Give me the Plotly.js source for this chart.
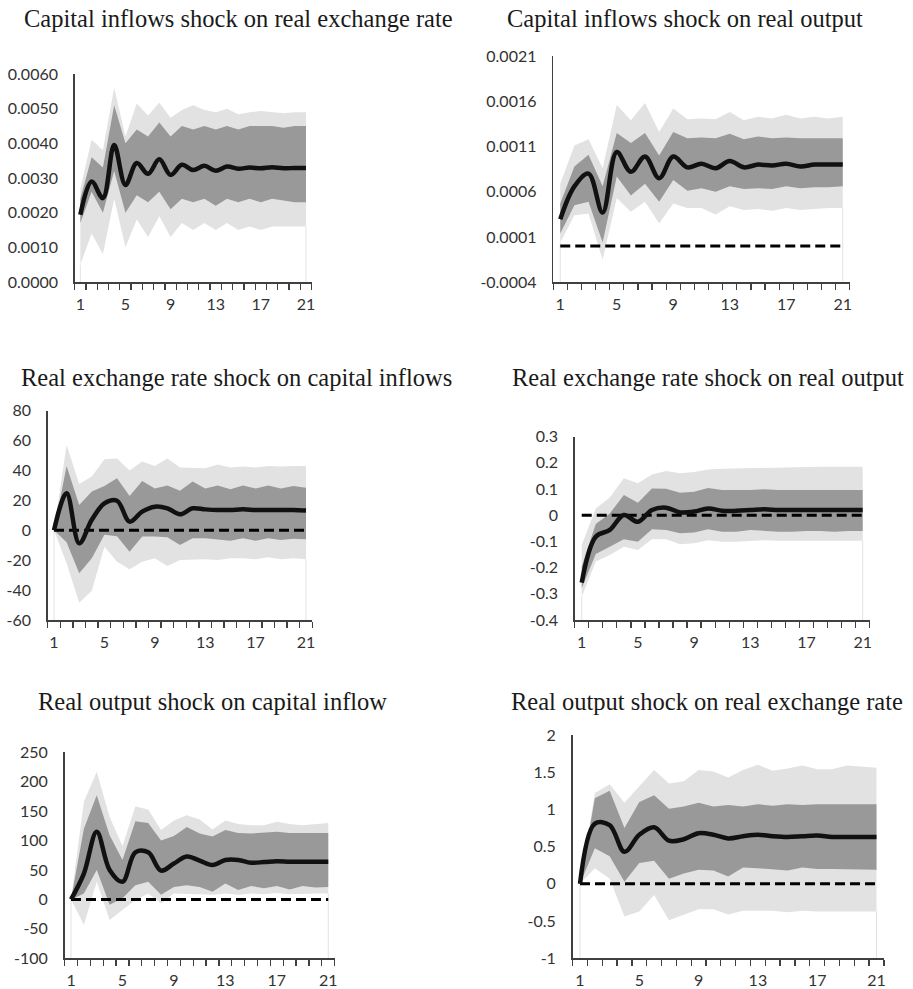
<!DOCTYPE html>
<html>
<head>
<meta charset="utf-8">
<script src="https://cdn.plot.ly/plotly-3.0.1.min.js"></script>
<style>html,body{margin:0;padding:0;background:#fff;}#chart{width:913px;height:989px;}</style>
</head>
<body>
<div id="chart"></div>
<script>
// ---------------- DATA ----------------
const periods = [1,2,3,4,5,6,7,8,9,10,11,12,13,14,15,16,17,18,19,20,21];
const xTickVals = [1,5,9,13,17,21];
const xTickText = ["1","5","9","13","17","21"];

const titles = [
  "Capital inflows shock on real exchange rate",
  "Capital inflows shock on real output",
  "Real exchange rate shock on capital inflows",
  "Real exchange rate shock on real output",
  "Real output shock on capital inflow",
  "Real output shock on real exchange rate"
];

// Panel 1: Capital inflows shock on real exchange rate
const p1Resp  = [0.00194,0.0029,0.00242,0.00395,0.0028,0.00343,0.00312,0.00354,0.00309,0.00338,0.00323,0.00335,0.00321,0.00333,0.00327,0.0033,0.00328,0.00331,0.00328,0.00329,0.00329];
const p1Hi90  = [0.0027,0.0041,0.0038,0.0056,0.0042,0.00515,0.0048,0.00517,0.00474,0.00496,0.0051,0.00496,0.0049,0.005,0.00484,0.0049,0.00493,0.0049,0.00487,0.0049,0.0049];
const p1Hi68  = [0.0024,0.0036,0.0033,0.0051,0.0040,0.0044,0.0042,0.0046,0.0042,0.0045,0.0044,0.0045,0.0044,0.0045,0.0044,0.0045,0.0045,0.0045,0.00445,0.0045,0.0045];
const p1Lo68  = [0.0017,0.0026,0.0020,0.0032,0.0020,0.0025,0.0023,0.0026,0.0021,0.0024,0.0023,0.0024,0.0022,0.0024,0.0023,0.0024,0.0023,0.0024,0.00235,0.0023,0.0023];
const p1Lo90  = [0.0005,0.0014,0.0008,0.0024,0.0010,0.0018,0.0013,0.0019,0.0013,0.0017,0.0015,0.0017,0.0015,0.0017,0.0015,0.0016,0.0015,0.0016,0.0016,0.0016,0.0016];
const p1YVals = [0,0.001,0.002,0.003,0.004,0.005,0.006];
const p1YText = ["0.0000","0.0010","0.0020","0.0030","0.0040","0.0050","0.0060"];

// Panel 2: Capital inflows shock on real output
const p2Resp  = [0.000296,0.00066,0.0008,0.00037,0.00104,0.00082,0.00099,0.00075,0.00099,0.00087,0.00091,0.00086,0.00094,0.00087,0.0009,0.00089,0.00091,0.00088,0.0009,0.0009,0.0009];
const p2Hi90  = [0.00069,0.00111,0.00118,0.00086,0.00156,0.00139,0.00158,0.00126,0.00152,0.0014,0.00141,0.0014,0.00148,0.00139,0.00143,0.00141,0.00145,0.00141,0.00143,0.00141,0.00143];
const p2Hi68  = [0.00047,0.00088,0.00101,0.00066,0.00125,0.00114,0.00125,0.0010,0.00126,0.00119,0.0012,0.00119,0.00124,0.00118,0.00121,0.00119,0.0012,0.00119,0.00119,0.00119,0.00119];
const p2Lo68  = [0.00014,0.00045,0.00049,0.00004,0.00077,0.00056,0.00069,0.00049,0.00073,0.00061,0.00064,0.0006,0.00066,0.00063,0.00064,0.00063,0.00066,0.00064,0.00065,0.00065,0.00066];
const p2Lo90  = [0.00004,0.00034,0.00036,-0.00015,0.00053,0.00038,0.00049,0.00025,0.00047,0.00042,0.00042,0.00035,0.00044,0.0004,0.00041,0.00039,0.00042,0.0004,0.00041,0.00042,0.00042];
const p2YVals = [-0.0004,0.0001,0.0006,0.0011,0.0016,0.0021];
const p2YText = ["-0.0004","0.0001","0.0006","0.0011","0.0016","0.0021"];

// Panel 3: Real exchange rate shock on capital inflows
const p3Resp  = [0,24.8,-8.7,7,18,19.8,5.8,12.5,15.8,14.7,10.7,14.7,14,13.6,13.6,14,13.6,13.6,13.6,13.6,13.2];
const p3Hi90  = [0,57,31,36,47.5,48,40,46,43,48,42,42,41.5,44,42,42.6,42,43,42.6,43,43];
const p3Hi68  = [0,43,17,26,29.7,34.8,23,33,28,30,26.5,32.6,28,30,27.4,30,28,30,28,29.7,28.5];
const p3Lo68  = [0,-8,-28.8,-18.7,-3,-4,-14.3,-4.2,-4.2,-4.7,-9.8,-5.4,-5.4,-6,-7,-5.4,-7,-5.4,-6.5,-5.6,-6];
const p3Lo90  = [0,-22,-48.4,-40.4,-11,-21,-26,-21,-18.7,-23.9,-19.8,-19.4,-19.4,-19.8,-18.7,-18.7,-19.4,-18,-19.4,-18.7,-19.4];
const p3YVals = [-60,-40,-20,0,20,40,60,80];
const p3YText = ["-60","-40","-20","0","20","40","60","80"];

// Panel 4: Real exchange rate shock on real output
const p4Resp  = [-0.257,-0.082,-0.056,0.001,-0.025,0.02,0.029,0.011,0.014,0.026,0.017,0.017,0.02,0.023,0.02,0.02,0.02,0.02,0.02,0.02,0.02];
const p4Hi90  = [-0.114,0.026,0.068,0.141,0.122,0.156,0.169,0.16,0.165,0.175,0.178,0.179,0.18,0.183,0.183,0.183,0.184,0.185,0.185,0.185,0.185];
const p4Hi68  = [-0.196,-0.033,0.007,0.077,0.048,0.102,0.101,0.086,0.09,0.104,0.096,0.096,0.096,0.099,0.096,0.096,0.096,0.096,0.096,0.096,0.096];
const p4Lo68  = [-0.279,-0.148,-0.12,-0.092,-0.101,-0.053,-0.056,-0.069,-0.066,-0.053,-0.063,-0.063,-0.056,-0.06,-0.063,-0.063,-0.06,-0.06,-0.063,-0.06,-0.06];
const p4Lo90  = [-0.311,-0.177,-0.152,-0.12,-0.133,-0.092,-0.092,-0.111,-0.107,-0.095,-0.101,-0.101,-0.098,-0.095,-0.097,-0.097,-0.097,-0.095,-0.097,-0.095,-0.097];
const p4YVals = [-0.4,-0.3,-0.2,-0.1,0,0.1,0.2,0.3];
const p4YText = ["-0.4","-0.3","-0.2","-0.1","0","0.1","0.2","0.3"];

// Panel 5: Real output shock on capital inflow
const p5Resp  = [0,44,115,50,30,80,80,49,61,73,66,58.5,67,67,62.5,63.5,65,64,64,64,64];
const p5Hi90  = [0,166,217,140,91,158,153,118,134,143,136,119,134,128,126,126,132,128,126,128,130];
const p5Hi68  = [0,120,177,109,67,133,130,100,108,123,112,107,118,113,112,113,115,113,113,113,113];
const p5Lo68  = [0,10,50,-9,2,24,30,8,21,24,21,13,27,16,23,19,23,17,23,20.5,21];
const p5Lo90  = [0,-43,30,-35,-18,-1,10,-7,10,10,9,8,10,8,10,9,11,9,10,10,10];
const p5YVals = [-100,-50,0,50,100,150,200,250];
const p5YText = ["-100","-50","0","50","100","150","200","250"];

// Panel 6: Real output shock on real exchange rate
const p6Resp  = [0,0.81,0.79,0.43,0.66,0.76,0.58,0.6,0.68,0.66,0.61,0.64,0.66,0.64,0.63,0.64,0.65,0.63,0.63,0.63,0.63];
const p6Hi90  = [0,1.22,1.34,1.09,1.31,1.53,1.35,1.38,1.53,1.51,1.43,1.53,1.6,1.52,1.55,1.59,1.54,1.54,1.59,1.58,1.56];
const p6Hi68  = [0,1.15,1.25,0.75,1.1,1.19,1.01,1.04,1.09,1.04,1.06,1.04,1.07,1.05,1.07,1.06,1.07,1.07,1.07,1.07,1.07];
const p6Lo68  = [0,0.48,0.37,0.03,0.28,0.31,0.07,0.14,0.19,0.18,0.1,0.22,0.21,0.19,0.18,0.22,0.2,0.2,0.2,0.2,0.19];
const p6Lo90  = [0,0.21,0.07,-0.44,-0.37,-0.15,-0.49,-0.42,-0.34,-0.34,-0.41,-0.36,-0.36,-0.36,-0.38,-0.36,-0.37,-0.37,-0.37,-0.37,-0.37];
const p6YVals = [-1,-0.5,0,0.5,1,1.5,2];
const p6YText = ["-1","-0.5","0","0.5","1","1.5","2"];

// ---------------- STYLE / LAYOUT ----------------
const W = 913, H = 989;
const LIGHT = "#e2e2e2", DARK = "#999999", AXIS = "#404040", TXT = "#333333";
const TICKFONT = {family: "Lato, 'Open Sans', sans-serif", size: 16, color: TXT};
const TITLEFONT = {family: "'Liberation Serif', 'Times New Roman', serif", size: 24.5, color: "#1a1a1a"};

// plot rectangles in pixels: [left, right, top, bottom]; title centre [x, y]
const panels = [
  {resp:p1Resp, hi90:p1Hi90, hi68:p1Hi68, lo68:p1Lo68, lo90:p1Lo90, yv:p1YVals, yt:p1YText, zero:false, box:[74.7,311.6,74,282],   title:[239,18]},
  {resp:p2Resp, hi90:p2Hi90, hi68:p2Hi68, lo68:p2Lo68, lo90:p2Lo90, yv:p2YVals, yt:p2YText, zero:true,  box:[553.2,849.8,56,282.3], title:[685,18]},
  {resp:p3Resp, hi90:p3Hi90, hi68:p3Hi68, lo68:p3Lo68, lo90:p3Lo90, yv:p3YVals, yt:p3YText, zero:true,  box:[47.7,312.3,410.7,620], title:[236,377]},
  {resp:p4Resp, hi90:p4Hi90, hi68:p4Hi68, lo68:p4Lo68, lo90:p4Lo90, yv:p4YVals, yt:p4YText, zero:true,  box:[574.7,869.7,436.7,620],title:[708,377]},
  {resp:p5Resp, hi90:p5Hi90, hi68:p5Hi68, lo68:p5Lo68, lo90:p5Lo90, yv:p5YVals, yt:p5YText, zero:true,  box:[64.6,334.7,752.3,958.3],title:[212,701]},
  {resp:p6Resp, hi90:p6Hi90, hi68:p6Hi68, lo68:p6Lo68, lo90:p6Lo90, yv:p6YVals, yt:p6YText, zero:true,  box:[572.6,883.9,735,958.3], title:[707,701]}
];

const boundaries = periods.map(p => p - 0.5).concat([periods[periods.length-1] + 0.5]);

const traces = [];
const layout = {
  width: W, height: H,
  margin: {l:0, r:0, t:0, b:0},
  paper_bgcolor: "#ffffff", plot_bgcolor: "rgba(0,0,0,0)",
  showlegend: false,
  font: TICKFONT,
  annotations: []
};

panels.forEach((p, i) => {
  const n = i + 1;
  const xa = "x" + (n === 1 ? "" : n), ya = "y" + (n === 1 ? "" : n);
  const xKey = "xaxis" + (n === 1 ? "" : n), yKey = "yaxis" + (n === 1 ? "" : n);
  const yMin = p.yv[0], yMax = p.yv[p.yv.length - 1];
  const last = periods.length - 1;
  const base = {xaxis: xa, yaxis: ya, hoverinfo: "skip", showlegend: false};

  // faint edges of the band at first and last period
  traces.push(Object.assign({}, base, {
    type: "scatter", mode: "lines",
    x: [periods[0], periods[0], null, periods[last], periods[last]],
    y: [yMin, p.lo90[0], null, yMin, p.lo90[last]],
    line: {color: LIGHT, width: 1}
  }));
  // outer band
  traces.push(Object.assign({}, base, {type:"scatter", mode:"lines", x: periods, y: p.lo90, line:{width:0, color:LIGHT}}));
  traces.push(Object.assign({}, base, {type:"scatter", mode:"lines", x: periods, y: p.hi90, fill:"tonexty", fillcolor: LIGHT, line:{width:0, color:LIGHT}}));
  // inner band
  traces.push(Object.assign({}, base, {type:"scatter", mode:"lines", x: periods, y: p.lo68, line:{width:0, color:DARK}}));
  traces.push(Object.assign({}, base, {type:"scatter", mode:"lines", x: periods, y: p.hi68, fill:"tonexty", fillcolor: DARK, line:{width:0, color:DARK}}));
  // zero reference
  if (p.zero) {
    traces.push(Object.assign({}, base, {type:"scatter", mode:"lines", x: periods, y: periods.map(() => 0),
      line:{color:"#000000", width:3, dash:"10px,5px"}}));
  }
  // response
  traces.push(Object.assign({}, base, {type:"scatter", mode:"lines", x: periods, y: p.resp,
    line:{color:"#111111", width:4.5, shape:"spline", smoothing:1}}));

  const [l, r, t, b] = p.box;
  layout[xKey] = {
    domain: [l / W, r / W], anchor: ya,
    range: [boundaries[0], boundaries[boundaries.length - 1]],
    tickmode: "array", tickvals: xTickVals, ticktext: xTickText,
    ticks: "", showgrid: false, zeroline: false,
    showline: true, linecolor: AXIS, linewidth: 1.5,
    ticklabelstandoff: 7,
    tickfont: TICKFONT,
    minor: {tickmode: "array", tickvals: boundaries, ticks: "outside", ticklen: 6, tickwidth: 1.3, tickcolor: AXIS, showgrid: false},
    fixedrange: true
  };
  layout[yKey] = {
    domain: [1 - b / H, 1 - t / H], anchor: xa,
    range: [yMin, yMax],
    tickmode: "array", tickvals: p.yv, ticktext: p.yt,
    ticks: "", showgrid: false, zeroline: false,
    showline: true, linecolor: AXIS, linewidth: 1.5,
    ticklabelstandoff: 12,
    tickfont: TICKFONT,
    fixedrange: true
  };
  layout.annotations.push({
    text: titles[i], xref: "paper", yref: "paper",
    x: p.title[0] / W, y: 1 - p.title[1] / H,
    xanchor: "center", yanchor: "middle", showarrow: false,
    font: TITLEFONT
  });
});

Plotly.newPlot("chart", traces, layout, {staticPlot: true, displayModeBar: false});
</script>
</body>
</html>
